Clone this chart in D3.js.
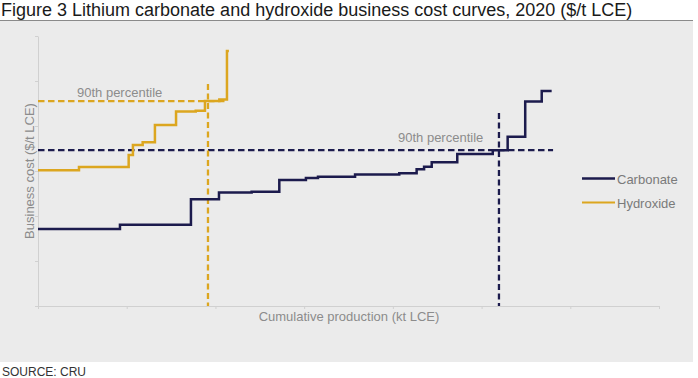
<!doctype html>
<html>
<head>
<meta charset="utf-8">
<title>Lithium cost curves</title>
<style>
  body { margin:0; background:#fff; font-family:"Liberation Sans", Arial, sans-serif; }
  svg { display:block; }
  .axis path, .axis line { stroke:#d0d0d0; stroke-width:1px; }
  .axis text { display:none; }
</style>
<script src="https://cdn.jsdelivr.net/npm/d3@7"></script>
</head>
<body>
<svg id="chart" width="698" height="378"></svg>
<script>

// cost curves (cumulative production kt LCE at each step start, cost $/t LCE)
var carbX = [0, 46.2, 86.2, 102.0, 120.4, 136.0, 151.0, 157.8, 178.7, 203.6, 213.4, 217.6, 221.9, 236.3, 256.3, 264.7, 274.6, 283.9, 289.5]
var carbY = [3420, 3610, 4740, 5040, 5080, 5600, 5690, 5750, 5840, 5900, 6080, 6190, 6390, 6760, 6920, 7520, 9090, 9560, 9560]

var hydX = [0, 23.1, 51.1, 53.5, 59.0, 65.9, 77.8, 88.9, 94.1, 102.2, 106.5, 107.6]
var hydY = [6030, 6180, 6710, 7160, 7280, 8040, 8640, 8680, 9110, 9180, 11330, 11330]

// 90th percentile markers
var seriesNames = ["Carbonate", "Hydroxide"]
var seriesColors = ["#1c1b4d", "#dca61f"]
var p90Cost = [6930, 9110]     // horizontal line level
var p90HEnd = [290.3, 107]     // horizontal line end
var p90Prod = [259.8, 95.8]    // vertical line position
var p90VTop = [8580, 9870]     // vertical line top

var xTicks = [0, 50, 100, 150, 200, 250, 300]
var yTicks = [0, 2000, 4000, 6000, 8000, 10000, 12000]

var svg = d3.select("#chart")

// title + panel
svg.append("text").attr("x", 1).attr("y", 16)
   .style("font-size", "18px").style("fill", "#1a1a1a")
   .text("Figure 3 Lithium carbonate and hydroxide business cost curves, 2020 ($/t LCE)")
svg.append("rect").attr("x", 0).attr("y", 20).attr("width", 693).attr("height", 342).attr("fill", "#ebebeb")
svg.append("line").attr("x1", 0).attr("x2", 693).attr("y1", 20.5).attr("y2", 20.5).attr("stroke", "#8a8a8a").attr("stroke-width", 1)
svg.append("text").attr("x", 2).attr("y", 376)
   .style("font-size", "12px").style("fill", "#333")
   .text("SOURCE: CRU")

var x = d3.scaleLinear().domain([0, 350]).range([38, 659])
var y = d3.scaleLinear().domain([0, 12000]).range([306, 36])

svg.append("g").attr("class", "axis")
   .attr("transform", "translate(0,306)")
   .call(d3.axisBottom(x).tickValues(xTicks.concat([350])).tickSize(3).tickSizeOuter(0))
svg.append("g").attr("class", "axis")
   .attr("transform", "translate(38,0)")
   .call(d3.axisLeft(y).tickValues(yTicks).tickSize(3).tickSizeOuter(0))

// axis titles
svg.append("text").attr("x", 349).attr("y", 321).attr("text-anchor", "middle")
   .style("font-size", "13px").style("fill", "#8c8c8c")
   .text("Cumulative production (kt LCE)")
svg.append("text").attr("transform", "translate(34,171) rotate(-90)").attr("text-anchor", "middle")
   .style("font-size", "13px").style("fill", "#8c8c8c")
   .text("Business cost ($/t LCE)")

// percentile lines
for (var i = 0; i < 2; i++) {
  svg.append("line")
     .attr("x1", x(0)).attr("x2", x(p90HEnd[i]))
     .attr("y1", y(p90Cost[i])).attr("y2", y(p90Cost[i]))
     .attr("stroke", seriesColors[i]).attr("stroke-width", 2.3).attr("stroke-dasharray", "6.5,3.5")
  svg.append("line")
     .attr("x1", x(p90Prod[i])).attr("x2", x(p90Prod[i]))
     .attr("y1", y(p90VTop[i])).attr("y2", y(0))
     .attr("stroke", seriesColors[i]).attr("stroke-width", 2.3).attr("stroke-dasharray", "6,3.5")
}
svg.append("text").attr("x", 77).attr("y", 97)
   .style("font-size", "13px").style("fill", "#8c8c8c").text("90th percentile")
svg.append("text").attr("x", 398).attr("y", 142)
   .style("font-size", "13px").style("fill", "#8c8c8c").text("90th percentile")

// step curves
var line = d3.line()
  .x(function(d){ return x(d[0]) })
  .y(function(d){ return y(d[1]) })
  .curve(d3.curveStepAfter)

var curves = [d3.zip(carbX, carbY), d3.zip(hydX, hydY)]
svg.selectAll("path.curve").data(curves).enter()
   .append("path").attr("class", "curve")
   .attr("d", line)
   .attr("fill", "none")
   .attr("stroke", function(d,i){ return seriesColors[i] })
   .attr("stroke-width", 2.5)

// legend
var leg = svg.selectAll("g.leg").data(seriesNames).enter()
  .append("g").attr("class", "leg")
  .attr("transform", function(d,i){ return "translate(582," + (178.5 + i*24) + ")" })
leg.append("line").attr("x1", 0).attr("x2", 33).attr("y1", 0).attr("y2", 0)
   .attr("stroke", function(d,i){ return seriesColors[i] })
   .attr("stroke-width", function(d,i){ return i == 0 ? 2.5 : 2 })
leg.append("text").attr("x", 35).attr("y", 5)
   .style("font-size", "13px").style("fill", "#7a7a7a")
   .text(function(d){ return d })

</script>
</body>
</html>
